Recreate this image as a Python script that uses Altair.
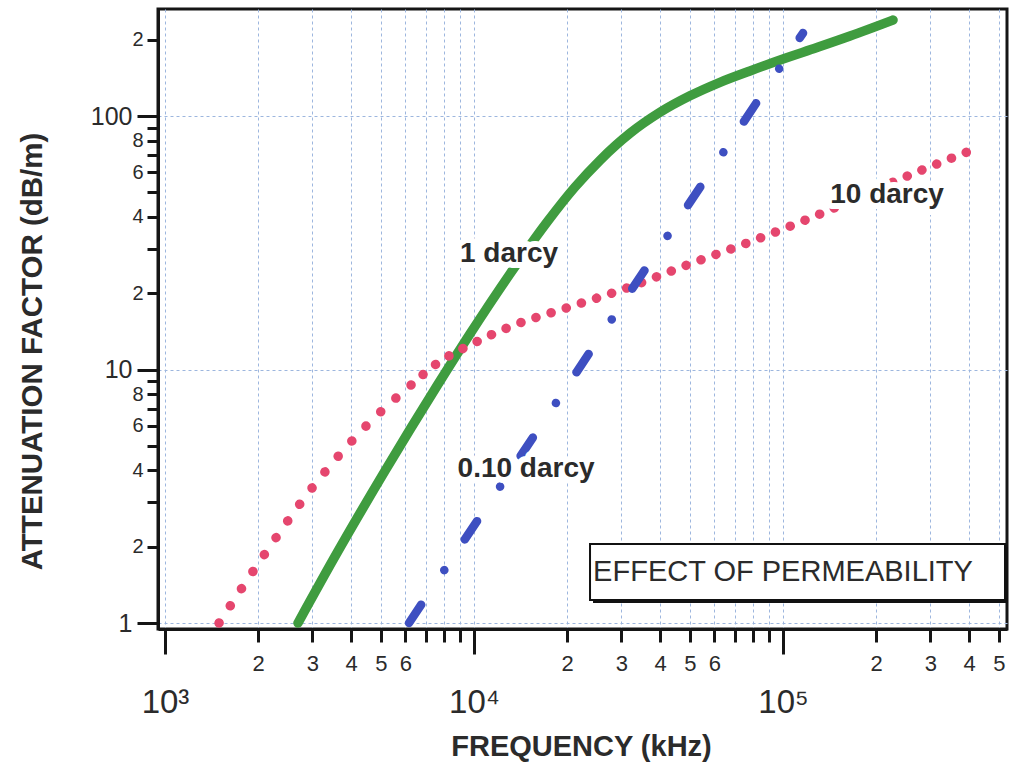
import altair as alt
import pandas as pd

# ---------------- data ----------------
green_freq = [2694, 3550, 5152, 7590, 9707, 13080, 17230, 21230, 25570, 31980,
              39990, 50000, 62540, 78200, 100000, 128800, 164800, 227000]
green_att = [1.0, 1.831, 3.981, 8.617, 13.82, 23.84, 38.14, 52.48, 66.89, 85.45,
             103.4, 120.1, 135.8, 150.6, 167.9, 186.3, 206.8, 239.1]

pink_steep_freq = [1496, 2092, 2990, 4540, 6254]
pink_steep_att = [1.0, 1.854, 3.408, 6.095, 8.686]
pink_flat_freq = [6254, 7703, 9563, 13270, 20300, 31270, 48920, 76460, 120500, 271500, 434000]
pink_flat_att = [8.686, 10.70, 12.38, 14.85, 17.64, 20.97, 25.84, 31.55, 39.24, 60.13, 75.47]

blue_freq = [6161, 116100]
blue_att = [1.0, 212.5]

label_text = ["1 darcy", "10 darcy", "0.10 darcy"]
label_freq = [12980, 217100, 14740]
label_att = [26.55, 45.4, 3.766]

box_freq = [23740, 523000]
box_att = [1.232, 2.05]
box_text = ["EFFECT OF PERMEABILITY"]
box_text_freq = [100000]
box_text_att = [1.589]

x_ticks = [1000, 2000, 3000, 4000, 5000, 6000, 7000, 8000, 9000,
           10000, 20000, 30000, 40000, 50000, 60000, 70000, 80000, 90000,
           100000, 200000, 300000, 400000, 500000]
x_tick_labels = ["", "2", "3", "4", "5", "6", "", "", "",
                 "", "2", "3", "4", "5", "6", "", "", "",
                 "", "2", "3", "4", "5"]
x_decades = [1000, 10000, 100000]
x_decade_labels = ["10³", "10⁴", "10⁵"]

y_ticks = [1, 2, 3, 4, 5, 6, 7, 8, 9, 10, 20, 30, 40, 50, 60, 70, 80, 90, 100, 200]
y_tick_labels = ["", "2", "", "4", "", "6", "", "8", "",
                 "", "2", "", "4", "", "6", "", "8", "", "", "2"]
y_decades = [1, 10, 100]
y_decade_labels = ["1", "10", "100"]

# ---------------- styling ----------------
FONT = "Liberation Sans"
TXT = "#2b2b2b"
AX = "#151515"
GRID = "#9db6de"
GREEN = "#3f9c3f"
PINK = "#e5466e"
BLUE = "#3e4fc1"


def lookup_expr(values, labels):
    vals = ",".join(str(v) for v in values)
    labs = ",".join("'" + s + "'" for s in labels)
    return f"[{labs}][indexof([{vals}], datum.value)]"


xs = alt.Scale(type="log", domain=[949.2, 530800], nice=False)
ys = alt.Scale(type="log", domain=[0.947, 264.3], nice=False)

x_axis_minor = alt.Axis(
    orient="bottom", values=x_ticks, labelExpr=lookup_expr(x_ticks, x_tick_labels),
    tickSize=13, tickWidth=3, tickColor=AX, domain=True, domainColor=AX, domainWidth=3,
    labelFont=FONT, labelFontSize=22, labelColor=TXT, labelPadding=11,
    labelOverlap=False, labelFlush=False, labelBound=False,
    grid=True, gridColor=GRID, gridDash=[3, 3], gridWidth=1,
    title="FREQUENCY (kHz)", titleFont=FONT, titleFontSize=29, titleFontWeight="bold",
    titleColor=TXT, titleX=423, titleY=117, titleBaseline="middle", titleAlign="center",
)
x_axis_major = alt.Axis(
    orient="bottom", values=x_decades, labelExpr=lookup_expr(x_decades, x_decade_labels),
    tickSize=25, tickWidth=3, tickColor=AX, domain=False,
    labelFont=FONT, labelFontSize=33, labelColor=TXT, labelPadding=32,
    labelOverlap=False, labelFlush=False, labelBound=False, grid=False, title=None,
)
y_axis_minor = alt.Axis(
    orient="left", values=y_ticks, labelExpr=lookup_expr(y_ticks, y_tick_labels),
    tickSize=11, tickWidth=3, tickColor=AX, domain=True, domainColor=AX, domainWidth=3,
    labelFont=FONT, labelFontSize=20, labelColor=TXT, labelPadding=4,
    labelOverlap=False, labelFlush=False, labelBound=False, grid=False,
    title="ATTENUATION FACTOR  (dB/m)", titleFont=FONT, titleFontSize=29.5,
    titleFontWeight="bold", titleColor=TXT, titleAngle=270,
    titleX=-126, titleY=342, titleBaseline="middle", titleAlign="center",
)
y_axis_major = alt.Axis(
    orient="left", values=y_decades, labelExpr=lookup_expr(y_decades, y_decade_labels),
    tickSize=21, tickWidth=3, tickColor=AX, domain=False,
    labelFont=FONT, labelFontSize=25, labelColor=TXT, labelPadding=5,
    labelOverlap=False, labelFlush=False, labelBound=False,
    grid=True, gridColor=GRID, gridDash=[3, 3], gridWidth=1, title=None,
)

green_df = pd.DataFrame({"f": green_freq, "a": green_att})
pink_a_df = pd.DataFrame({"f": pink_steep_freq, "a": pink_steep_att})
pink_b_df = pd.DataFrame({"f": pink_flat_freq, "a": pink_flat_att})
blue_df = pd.DataFrame({"f": blue_freq, "a": blue_att})
lab_df = pd.DataFrame({"f": label_freq, "a": label_att, "t": label_text})
box_df = pd.DataFrame({"f1": [box_freq[0]], "f2": [box_freq[1]],
                       "a1": [box_att[0]], "a2": [box_att[1]]})
boxt_df = pd.DataFrame({"f": box_text_freq, "a": box_text_att, "t": box_text})

green = alt.Chart(green_df).mark_line(
    color=GREEN, strokeWidth=9.5, strokeCap="round", interpolate="monotone"
).encode(
    x=alt.X("f:Q", scale=xs, axis=x_axis_minor),
    y=alt.Y("a:Q", scale=ys, axis=y_axis_minor),
)

pink_a = alt.Chart(pink_a_df).mark_line(
    color=PINK, strokeWidth=9.5, strokeCap="round", strokeDash=[0.1, 20.4],
    interpolate="monotone"
).encode(
    x=alt.X("f:Q", scale=xs, axis=None),
    y=alt.Y("a:Q", scale=ys, axis=None),
)
pink_b = alt.Chart(pink_b_df).mark_line(
    color=PINK, strokeWidth=9.5, strokeCap="round", strokeDash=[0.1, 15.8],
    interpolate="monotone"
).encode(
    x=alt.X("f:Q", scale=xs, axis=None),
    y=alt.Y("a:Q", scale=ys, axis=None),
)

blue = alt.Chart(blue_df).mark_line(
    color=BLUE, strokeWidth=8.5, strokeCap="round", strokeDash=[22, 41.5, 0.1, 36.9]
).encode(
    x=alt.X("f:Q", scale=xs, axis=x_axis_major),
    y=alt.Y("a:Q", scale=ys, axis=y_axis_major),
)

shadow = alt.Chart(box_df).mark_rect(
    fill="#111111", xOffset=3, x2Offset=3, yOffset=3, y2Offset=3
).encode(
    x=alt.X("f1:Q", scale=xs, axis=None), x2="f2",
    y=alt.Y("a1:Q", scale=ys, axis=None), y2="a2",
)
box = alt.Chart(box_df).mark_rect(
    fill="white", stroke="#111111", strokeWidth=2
).encode(
    x=alt.X("f1:Q", scale=xs, axis=None), x2="f2",
    y=alt.Y("a1:Q", scale=ys, axis=None), y2="a2",
)
box_label = alt.Chart(boxt_df).mark_text(
    font=FONT, fontSize=29, color=TXT, align="center", baseline="middle"
).encode(
    x=alt.X("f:Q", scale=xs, axis=None),
    y=alt.Y("a:Q", scale=ys, axis=None),
    text="t:N",
)

halo = alt.Chart(lab_df).mark_text(
    font=FONT, fontSize=28, fontWeight="bold", color="white", stroke="white",
    strokeWidth=12, strokeJoin="round", align="center", baseline="alphabetic"
).encode(
    x=alt.X("f:Q", scale=xs, axis=None),
    y=alt.Y("a:Q", scale=ys, axis=None),
    text="t:N",
)
labels = alt.Chart(lab_df).mark_text(
    font=FONT, fontSize=28, fontWeight="bold", color=TXT,
    align="center", baseline="alphabetic"
).encode(
    x=alt.X("f:Q", scale=xs, axis=None),
    y=alt.Y("a:Q", scale=ys, axis=None),
    text="t:N",
)

chart = alt.layer(
    green, pink_a, pink_b, blue, shadow, box, box_label, halo, labels
).resolve_axis(
    x="independent", y="independent"
).properties(
    width=849, height=620,
    autosize=alt.AutoSizeParams(type="none"),
    padding={"left": 158, "top": 9, "right": 2, "bottom": 142},
    background="white",
).configure_view(
    stroke=AX, strokeWidth=3
)

chart.save("out.html", embed_options={"renderer": "svg", "actions": False})
